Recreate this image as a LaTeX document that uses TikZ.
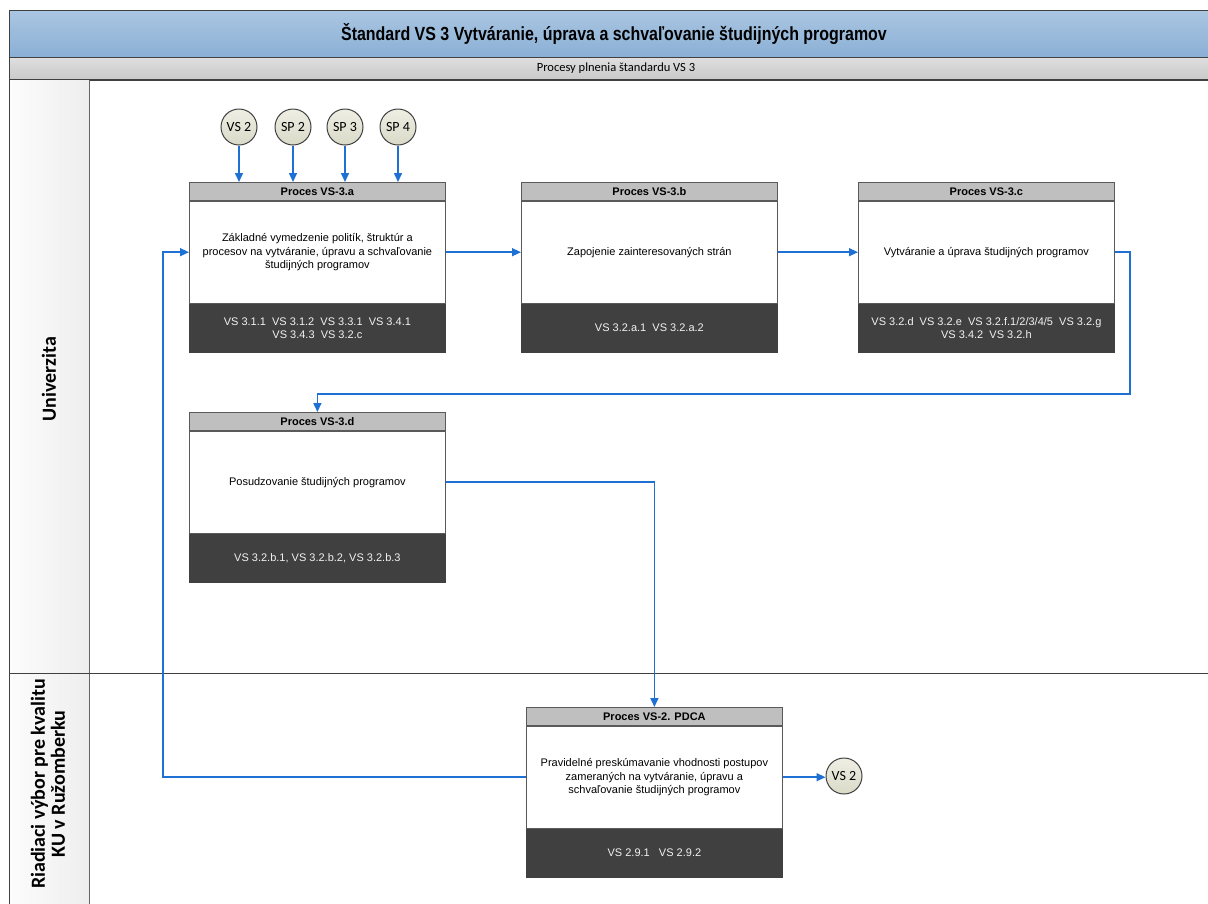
\documentclass[tikz,border=0pt]{standalone}
\usepackage{fontspec}
\setmainfont{Liberation Sans}
\newfontfamily\lanefont{Carlito}
\usetikzlibrary{arrows.meta}

\definecolor{hdtop}{HTML}{AAC6E1}
\definecolor{hdbot}{HTML}{8AAFD5}
\definecolor{subtop}{HTML}{DEDEDE}
\definecolor{subbot}{HTML}{C9C9C9}
\definecolor{frame}{HTML}{404040}
\definecolor{bar}{HTML}{BFBFBF}
\definecolor{refs}{HTML}{404040}
\definecolor{pline}{HTML}{5A5A5A}
\definecolor{flow}{HTML}{1F70D3}
\definecolor{ctop}{HTML}{EEEEE4}
\definecolor{cbot}{HTML}{DADAC8}
\definecolor{lanel}{HTML}{FCFCFC}
\definecolor{laner}{HTML}{EEEEEE}

% one process box: title bar, description, list of criteria
\newcommand\procbox[6]{%
  \node[ptitle, anchor=north west] (#1-t) at (#2,#3) {#4};
  \node[pbody, anchor=north] (#1) at (#1-t.south) {#5};
  \node[prefs, anchor=north] (#1-r) at (#1.south) {#6};
}

\begin{document}
\begin{tikzpicture}[x=1pt,y=-1pt,
  font=\fontsize{11}{13.5}\selectfont,
  ptitle/.style={draw=pline, fill=bar, line width=0.8pt, inner sep=0pt,
    minimum width=256pt, minimum height=18pt, font=\fontsize{11}{13}\selectfont\bfseries},
  pbody/.style={draw=pline, fill=white, line width=0.8pt, inner sep=0pt,
    minimum width=256pt, minimum height=102pt, align=center},
  prefs/.style={draw=refs, fill=refs, line width=0.8pt, inner sep=0pt,
    minimum width=256pt, minimum height=48pt, align=center, text=white!95!black},
  refcircle/.style={circle, draw=frame, line width=1pt, top color=ctop, bottom color=cbot,
    minimum size=36pt, inner sep=0pt, font=\lanefont\fontsize{14}{16}\selectfont},
  flowline/.style={draw=flow, line width=1.5pt},
  flowarrow/.style={flowline, -{Triangle[length=9pt,width=8pt]}},
  lanelabel/.style={rotate=90, align=center, font=\lanefont\bfseries\fontsize{20}{20}\selectfont},
  band/.style={frame, line width=1.2pt}
]
\useasboundingbox (0,0) rectangle (1208,903);

% title band and sub-band (open to the right)
\shade[top color=hdtop, bottom color=hdbot] (9.5,10.5) rectangle (1230,57.5);
\shade[top color=subtop, bottom color=subbot] (9.5,57.5) rectangle (1230,80);
\draw[band] (1230,10.5) -- (9.5,10.5) -- (9.5,80);
\draw[band] (9.5,57.5) -- (1230,57.5);
\draw[band] (9.5,80) -- (1230,80);
\node[font=\bfseries] (title) at (614,34)
  {\scalebox{0.84}[1]{\fontsize{19}{21}\selectfont\bfseries Štandard VS 3 Vytváranie, úprava a schvaľovanie študijných programov}};
\node (sub) at (616,68.5) {\lanefont\fontsize{12.5}{14}\selectfont Procesy plnenia štandardu VS 3};

% swimlanes
\fill[left color=lanel, right color=laner] (9.5,80.6) rectangle (89,910);
\draw[band] (9.5,80) -- (9.5,910);
\draw[frame!80, line width=1pt] (89,80) -- (89,910);
\draw[band] (9.5,673.5) -- (1230,673.5);
\node[lanelabel] (lane1) at (49,379) {Univerzita};
\node[lanelabel] (lane2) at (48,784) {Riadiaci výbor pre kvalitu\\KU v Ružomberku};

% process boxes
\procbox{a}{189}{182}{Proces VS-3.a}
  {Základné vymedzenie politík, štruktúr a\\procesov na vytváranie, úpravu a schvaľovanie\\študijných programov}
  {VS 3.1.1\ \ VS 3.1.2\ \ VS 3.3.1\ \ VS 3.4.1\\VS 3.4.3\ \ VS 3.2.c}
\procbox{b}{521}{182}{Proces VS-3.b}
  {Zapojenie zainteresovaných strán}
  {VS 3.2.a.1\ \ VS 3.2.a.2}
\procbox{c}{858}{182}{Proces VS-3.c}
  {Vytváranie a úprava študijných programov}
  {VS 3.2.d\ \ VS 3.2.e\ \ VS 3.2.f.1/2/3/4/5\ \ VS 3.2.g\\VS 3.4.2\ \ VS 3.2.h}
\procbox{d}{189}{412}{Proces VS-3.d}
  {Posudzovanie študijných programov}
  {VS 3.2.b.1, VS 3.2.b.2, VS 3.2.b.3}
\procbox{p}{526}{707}{Proces VS-2. PDCA}
  {Pravidelné preskúmavanie vhodnosti postupov\\zameraných na vytváranie, úpravu a\\schvaľovanie študijných programov}
  {VS 2.9.1\ \ \ VS 2.9.2}

% input and output references
\node[refcircle] (in1) at (239,127) {VS 2};
\node[refcircle] (in2) at (293,127) {SP 2};
\node[refcircle] (in3) at (345,127) {SP 3};
\node[refcircle] (in4) at (398,127) {SP 4};
\node[refcircle] (out) at (844,776) {VS 2};

% flows
\foreach \c in {in1,in2,in3,in4}
  \draw[flowarrow] (\c) -- (\c |- a-t.north);
\draw[flowarrow] (a) -- (b);
\draw[flowarrow] (b) -- (c);
\coordinate (cdturn) at (1130,394);
\draw[flowarrow] (c.east) -| (cdturn) -| (d-t.north);
\draw[flowarrow] (d.east) -| (p-t.north);
\coordinate (fbturn) at (163,0);
\draw[flowarrow] (p.west) -| (fbturn |- a.west) -- (a.west);
\draw[flowarrow] (p.east) -- (p.east -| out.west);
\end{tikzpicture}
\end{document}
